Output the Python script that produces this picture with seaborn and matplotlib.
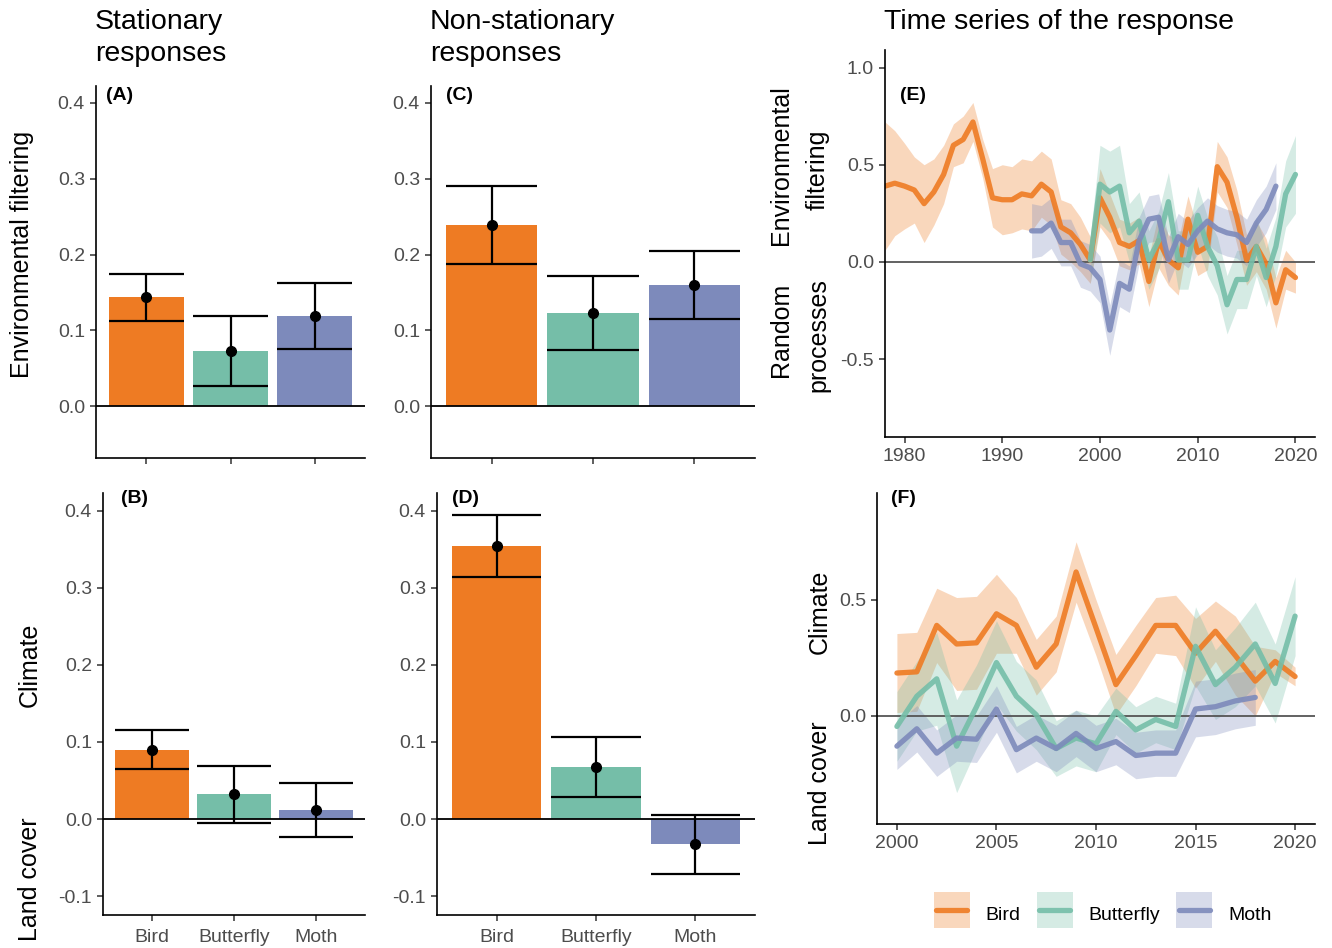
"""Stationary vs non-stationary responses of birds, butterflies and moths."""

import numpy as np
import pandas as pd
import matplotlib
matplotlib.use("Agg")
import matplotlib.pyplot as plt
import seaborn as sns
from matplotlib.lines import Line2D
from matplotlib.legend_handler import HandlerTuple

# ---- data -------------------------------------------------------------
TAXA = ["Bird", "Butterfly", "Moth"]
COLORS = {"Bird": "#EE7B23", "Butterfly": "#75BEA8", "Moth": "#7D8ABB"}

# bar panels: estimate and half-width of the interval
stat_env = [0.144, 0.073, 0.119]
stat_env_hw = [0.031, 0.046, 0.043]
nonstat_env = [0.239, 0.123, 0.160]
nonstat_env_hw = [0.051, 0.049, 0.045]
stat_clim = [0.090, 0.032, 0.012]
stat_clim_hw = [0.025, 0.037, 0.035]
nonstat_clim = [0.354, 0.067, -0.033]
nonstat_clim_hw = [0.040, 0.039, 0.038]

# (E) environmental filtering vs random processes
bird_e_years = list(range(1978, 2021))
bird_e = [0.39, 0.405, 0.39, 0.37, 0.30, 0.36, 0.45, 0.60, 0.63, 0.72,
          0.53, 0.33, 0.32, 0.32, 0.35, 0.34, 0.40, 0.36, 0.18, 0.15,
          0.09, 0.01, 0.33, 0.23, 0.10, 0.08, 0.11, -0.10, 0.11, 0.01,
          -0.03, 0.22, 0.05, 0.08, 0.49, 0.41, 0.23, 0.01, 0.08, -0.01,
          -0.21, -0.04, -0.08]
bird_e_hw = [0.33, 0.27, 0.22, 0.17, 0.20, 0.17, 0.15, 0.11, 0.12, 0.10,
             0.10, 0.15, 0.18, 0.17, 0.18, 0.18, 0.17, 0.17, 0.14, 0.15,
             0.14, 0.12, 0.15, 0.12, 0.12, 0.12, 0.12, 0.13, 0.14, 0.13,
             0.14, 0.12, 0.12, 0.12, 0.13, 0.13, 0.14, 0.13, 0.13, 0.13,
             0.13, 0.10, 0.08]
butterfly_e_years = list(range(1999, 2021))
butterfly_e = [0.01, 0.40, 0.36, 0.39, 0.15, 0.21, 0.01, 0.11, 0.31, 0.01,
               0.01, 0.24, 0.08, -0.02, -0.22, -0.09, -0.09, 0.08, -0.08,
               0.08, 0.35, 0.45]
butterfly_e_hw = [0.12, 0.20, 0.21, 0.21, 0.15, 0.15, 0.15, 0.15, 0.15, 0.15,
                  0.15, 0.15, 0.15, 0.15, 0.15, 0.15, 0.15, 0.15, 0.15,
                  0.15, 0.17, 0.20]
moth_e_years = list(range(1993, 2019))
moth_e = [0.16, 0.16, 0.20, 0.10, 0.10, -0.01, -0.03, -0.09, -0.35, -0.11,
          -0.14, 0.11, 0.22, 0.23, 0.01, 0.13, 0.09, 0.16, 0.21, 0.17,
          0.15, 0.14, 0.10, 0.20, 0.27, 0.39]
moth_e_hw = [0.14, 0.13, 0.13, 0.12, 0.12, 0.12, 0.12, 0.12, 0.13, 0.12,
             0.12, 0.12, 0.12, 0.12, 0.12, 0.12, 0.12, 0.12, 0.12, 0.12,
             0.12, 0.12, 0.12, 0.12, 0.12, 0.12]

# (F) climate vs land cover
bird_f_years = list(range(2000, 2021))
bird_f = [0.185, 0.19, 0.39, 0.31, 0.315, 0.44, 0.39, 0.21, 0.31, 0.62,
          0.38, 0.135, 0.26, 0.39, 0.39, 0.27, 0.365, 0.26, 0.15, 0.235, 0.17]
bird_f_hw = [0.17, 0.17, 0.16, 0.20, 0.20, 0.17, 0.12, 0.12, 0.12, 0.13,
             0.12, 0.13, 0.13, 0.12, 0.13, 0.15, 0.13, 0.17, 0.15, 0.05, 0.04]
butterfly_f_years = list(range(2000, 2021))
butterfly_f = [-0.045, 0.085, 0.16, -0.13, 0.04, 0.23, 0.085, 0.005, -0.14,
               -0.095, -0.12, 0.02, -0.06, -0.015, -0.045, 0.30, 0.135, 0.21,
               0.31, 0.14, 0.43]
butterfly_f_hw = [0.15, 0.15, 0.20, 0.20, 0.18, 0.18, 0.15, 0.15, 0.12, 0.12,
                  0.12, 0.10, 0.10, 0.10, 0.10, 0.17, 0.15, 0.17, 0.18, 0.17,
                  0.17]
moth_f_years = list(range(2000, 2019))
moth_f = [-0.13, -0.055, -0.16, -0.095, -0.10, 0.03, -0.145, -0.095, -0.14,
          -0.075, -0.14, -0.11, -0.17, -0.16, -0.16, 0.03, 0.04, 0.065, 0.08]
moth_f_hw = [0.10, 0.10, 0.10, 0.10, 0.10, 0.10, 0.10, 0.10, 0.10, 0.10,
             0.10, 0.10, 0.10, 0.10, 0.10, 0.12, 0.12, 0.12, 0.12]

# ---- style -------------------------------------------------------------
W, H = 1332, 948
TICK_GREY = "#4D4D4D"

sns.set_style("ticks")
plt.rcParams["font.family"] = ["Liberation Sans", "DejaVu Sans"]
plt.rcParams["axes.linewidth"] = 1.2
plt.rcParams["text.color"] = "black"
plt.rcParams["axes.edgecolor"] = "black"


def add_ax(fig, left, top, right, bottom):
    return fig.add_axes([left / W, 1 - bottom / H, (right - left) / W, (bottom - top) / H])


def ftext(fig, x, y, s, **kw):
    fig.text(x / W, 1 - y / H, s, **kw)


def style_axis(ax):
    sns.despine(ax=ax)
    ax.tick_params(length=4, width=1.1, color="#333333", labelcolor=TICK_GREY,
                   labelsize=14, pad=4)


def bar_panel(ax, values, hw, ylim, show_labels):
    df = pd.DataFrame({"taxon": TAXA, "value": values, "hw": hw})
    sns.barplot(data=df, x="taxon", y="value", hue="taxon", palette=COLORS,
                width=0.9, saturation=1, linewidth=0, errorbar=None,
                legend=False, ax=ax)
    x = np.arange(len(df))
    ax.axhline(0, color="black", lw=1.3, zorder=3)
    ax.hlines(df["value"] + df["hw"], x - 0.45, x + 0.45, color="black", lw=1.6, zorder=4)
    ax.hlines(df["value"] - df["hw"], x - 0.45, x + 0.45, color="black", lw=1.6, zorder=4)
    ax.vlines(x, df["value"] - df["hw"], df["value"] + df["hw"], color="black", lw=1.6, zorder=4)
    ax.plot(x, df["value"], "o", color="black", ms=7, zorder=5)
    ax.set_xlim(-0.6, 2.6)
    ax.set_ylim(*ylim)
    ax.set_xlabel("")
    ax.set_ylabel("")
    style_axis(ax)
    ax.tick_params(axis="x", pad=6)
    if not show_labels:
        ax.set_xticklabels([])


def series_panel(ax, series, xlim, ylim):
    frames = []
    for taxon, years, mean, hw in series:
        frames.append(pd.DataFrame({"taxon": taxon, "year": years, "mean": mean, "hw": hw}))
    df = pd.concat(frames, ignore_index=True)
    for taxon, grp in df.groupby("taxon", sort=False):
        ax.fill_between(grp["year"], grp["mean"] - grp["hw"], grp["mean"] + grp["hw"],
                        color=COLORS[taxon], alpha=0.3, lw=0, zorder=1)
    ax.axhline(0, color="#555555", lw=1.3, zorder=1.5)
    sns.lineplot(data=df, x="year", y="mean", hue="taxon", palette=COLORS,
                 lw=3.8, alpha=0.9, legend=False, ax=ax, zorder=2)
    ax.set_xlim(*xlim)
    ax.set_ylim(*ylim)
    ax.set_xlabel("")
    ax.set_ylabel("")
    style_axis(ax)


fig = plt.figure(figsize=(W / 100, H / 100), dpi=100)

ax_a = add_ax(fig, 96, 86, 365, 458)
ax_c = add_ax(fig, 431, 86, 755, 458)
ax_b = add_ax(fig, 103, 493, 365, 915)
ax_d = add_ax(fig, 437, 493, 755, 915)
ax_e = add_ax(fig, 885, 50, 1315, 437)
ax_f = add_ax(fig, 877, 493, 1315, 824)

bar_panel(ax_a, stat_env, stat_env_hw, (-0.068, 0.422), False)
bar_panel(ax_c, nonstat_env, nonstat_env_hw, (-0.068, 0.422), False)
bar_panel(ax_b, stat_clim, stat_clim_hw, (-0.1245, 0.423), True)
bar_panel(ax_d, nonstat_clim, nonstat_clim_hw, (-0.1245, 0.423), True)
for ax in (ax_a, ax_c):
    ax.set_yticks([0.0, 0.1, 0.2, 0.3, 0.4])
for ax in (ax_b, ax_d):
    ax.set_yticks([-0.1, 0.0, 0.1, 0.2, 0.3, 0.4])

series_panel(ax_e, [("Bird", bird_e_years, bird_e, bird_e_hw),
                    ("Butterfly", butterfly_e_years, butterfly_e, butterfly_e_hw),
                    ("Moth", moth_e_years, moth_e, moth_e_hw)],
             (1978, 2022), (-0.9, 1.09))
ax_e.set_xticks([1980, 1990, 2000, 2010, 2020])
ax_e.set_yticks([-0.5, 0.0, 0.5, 1.0])

series_panel(ax_f, [("Bird", bird_f_years, bird_f, bird_f_hw),
                    ("Butterfly", butterfly_f_years, butterfly_f, butterfly_f_hw),
                    ("Moth", moth_f_years, moth_f, moth_f_hw)],
             (1999, 2021), (-0.465, 0.96))
ax_f.set_xticks([2000, 2005, 2010, 2015, 2020])
ax_f.set_yticks([0.0, 0.5])

for ax in fig.axes:
    ax.yaxis.set_major_formatter(matplotlib.ticker.FormatStrFormatter("%.1f"))

# column titles
title_kw = dict(fontsize=20.5, ha="left", va="top", linespacing=1.28)
ftext(fig, 95, 9, "Stationary\nresponses", **title_kw)
ftext(fig, 430, 9, "Non-stationary\nresponses", **title_kw)
ftext(fig, 884, 9, "Time series of the response", **title_kw)

# panel tags
tag_kw = dict(fontsize=14, fontweight="bold", ha="left", va="center")
ftext(fig, 106, 96, "(A)", **tag_kw)
ftext(fig, 446, 96, "(C)", **tag_kw)
ftext(fig, 121, 499, "(B)", **tag_kw)
ftext(fig, 452, 499, "(D)", **tag_kw)
ftext(fig, 900, 96, "(E)", **tag_kw)
ftext(fig, 891, 499, "(F)", **tag_kw)

# axis titles
lab_kw = dict(fontsize=18, rotation=90, ha="center", va="center")
ftext(fig, 22, 254, "Environmental filtering", **lab_kw)
ftext(fig, 30, 665, "Climate", **lab_kw)
ftext(fig, 30, 879, "Land cover", **lab_kw)
ftext(fig, 781, 165, "Environmental", **lab_kw)
ftext(fig, 818, 170, "filtering", **lab_kw)
ftext(fig, 781, 330, "Random", **lab_kw)
ftext(fig, 818, 335, "processes", **lab_kw)
ftext(fig, 820, 612, "Climate", **lab_kw)
ftext(fig, 820, 783, "Land cover", **lab_kw)

# legend: pale square key with the line across it
handles = [(Line2D([], [], ls="none", marker="s", ms=26.5, mew=0,
                   markerfacecolor=COLORS[t], alpha=0.3),
            Line2D([], [], color=COLORS[t], lw=3.8, alpha=0.9)) for t in TAXA]
fig.legend(handles=handles, labels=TAXA, handler_map={tuple: HandlerTuple(ndivide=1)},
           loc="center", bbox_to_anchor=(1104 / W, 1 - 914 / H), ncol=3, frameon=False,
           fontsize=14, handlelength=1.6, handleheight=1.9, handletextpad=0.95,
           columnspacing=0.95, numpoints=1)

fig.savefig("out.png", dpi=100)
